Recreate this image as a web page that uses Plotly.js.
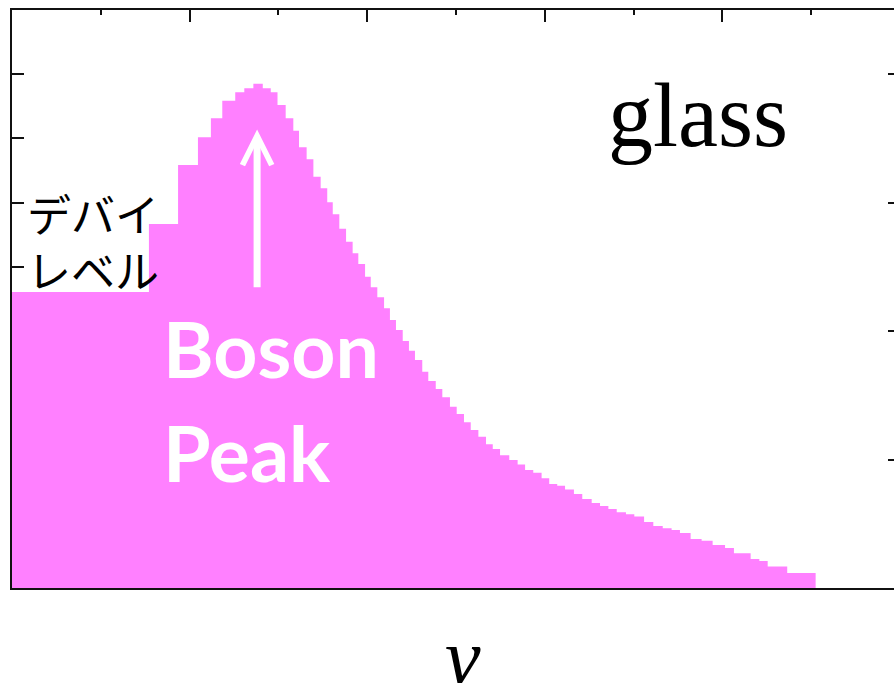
<!DOCTYPE html>
<html>
<head>
<meta charset="utf-8">
<script src="https://cdn.plot.ly/plotly-3.0.1.min.js"></script>
<style>
  html, body { margin: 0; padding: 0; overflow: hidden; background: #ffffff; }
  #chart { width: 906px; height: 683px; }
</style>
</head>
<body>
<div id="chart"></div>
<script>
// Vibrational density of states g(ν)/ν² of a glass, as a step histogram.
// Left bin edges along ν (arbitrary units) and the level of each bin.
const nuEdges = [
  0.000, 0.771, 0.935, 1.047, 1.120, 1.184, 1.257, 1.308, 1.359, 1.412,
  1.457, 1.495, 1.541, 1.584, 1.616, 1.659, 1.697, 1.738, 1.775, 1.806,
  1.843, 1.881, 1.918, 1.950, 1.988, 2.020, 2.057, 2.095, 2.128, 2.162,
  2.200, 2.235, 2.269, 2.310, 2.344, 2.386, 2.423, 2.466, 2.504, 2.545,
  2.583, 2.626, 2.669, 2.707, 2.748, 2.800, 2.847, 2.889, 2.935, 2.982,
  3.025, 3.070, 3.114, 3.164, 3.211, 3.264, 3.311, 3.358, 3.405, 3.457,
  3.504, 3.559, 3.611, 3.664, 3.714, 3.761, 3.821, 3.883, 3.945, 4.015,
  4.065, 4.159, 4.208, 4.255, 4.365
];
const nuEnd = 4.525;
const gDensity = [
  2.305, 2.834, 3.293, 3.509, 3.657, 3.794, 3.859, 3.891, 3.926, 3.891,
  3.859, 3.761, 3.657, 3.560, 3.431, 3.338, 3.202, 3.112, 3.003, 2.910,
  2.797, 2.696, 2.606, 2.523, 2.424, 2.341, 2.263, 2.178, 2.087, 2.009,
  1.923, 1.848, 1.775, 1.684, 1.612, 1.549, 1.485, 1.412, 1.355, 1.290,
  1.230, 1.178, 1.119, 1.082, 1.033, 0.997, 0.962, 0.919, 0.898, 0.854,
  0.810, 0.796, 0.767, 0.732, 0.693, 0.662, 0.638, 0.615, 0.589, 0.574,
  0.557, 0.514, 0.483, 0.465, 0.452, 0.428, 0.382, 0.368, 0.335, 0.311,
  0.270, 0.226, 0.210, 0.167, 0.117
];

// Debye level and the Boson-peak arrow (from just above the Debye level up to the peak)
const debyeLevel = gDensity[0];
const peakNu = 1.38;
const peakTip = 3.57;
const arrowBase = 2.33;

const axisRangeX = [0, 5];
const axisRangeY = [0, 4.5];

const stepX = nuEdges.concat([nuEnd]);
const stepY = gDensity.concat([gDensity[gDensity.length - 1]]);

const histTrace = {
  x: stepX, y: stepY,
  type: 'scatter', mode: 'lines',
  line: { shape: 'hv', width: 0, color: '#ff80ff' },
  fill: 'tozeroy', fillcolor: '#ff80ff',
  hoverinfo: 'skip', showlegend: false
};
// carries the mirrored top / right axes
const frameTrace = {
  x: axisRangeX, y: axisRangeY, xaxis: 'x2', yaxis: 'y2',
  type: 'scatter', mode: 'markers', marker: { opacity: 0 },
  hoverinfo: 'skip', showlegend: false
};

const axisColor = '#111111';
const jpFont = { family: '"Noto Sans CJK JP", "Noto Sans", sans-serif', size: 44, color: '#000000' };
const peakFont = { family: 'Lato, "Open Sans", sans-serif', size: 77, color: '#ffffff' };

const layout = {
  width: 906, height: 683,
  margin: { l: 12, r: 6, t: 10, b: 95 },
  paper_bgcolor: '#ffffff', plot_bgcolor: '#ffffff',
  showlegend: false,
  xaxis: {
    range: axisRangeX, showline: true, linecolor: axisColor, linewidth: 2,
    ticks: '', showticklabels: false, showgrid: false, zeroline: false,
    layer: 'above traces', fixedrange: true
  },
  xaxis2: {
    overlaying: 'x', side: 'top', range: axisRangeX,
    showline: true, linecolor: axisColor, linewidth: 2,
    ticks: 'inside', ticklen: 12, tickwidth: 2, tickcolor: axisColor,
    tick0: 0, dtick: 1,
    minor: { ticks: 'inside', ticklen: 5, tickwidth: 2, tickcolor: axisColor, tick0: 0.5, dtick: 1 },
    showticklabels: false, showgrid: false, zeroline: false, fixedrange: true
  },
  yaxis: {
    range: axisRangeY, showline: true, linecolor: axisColor, linewidth: 2,
    ticks: 'inside', ticklen: 12, tickwidth: 2, tickcolor: axisColor,
    tick0: 0, dtick: 0.5,
    showticklabels: false, showgrid: false, zeroline: false,
    layer: 'below traces', fixedrange: true
  },
  yaxis2: {
    overlaying: 'y', side: 'right', range: axisRangeY,
    showline: true, linecolor: axisColor, linewidth: 2,
    ticks: 'inside', ticklen: 12, tickwidth: 2, tickcolor: axisColor,
    tick0: 0, dtick: 1,
    showticklabels: false, showgrid: false, zeroline: false, fixedrange: true
  },
  annotations: [
    {
      xref: 'x', yref: 'y', x: peakNu, y: peakTip,
      axref: 'x', ayref: 'y', ax: peakNu, ay: arrowBase,
      text: '', showarrow: true, arrowhead: 5, arrowsize: 0.82,
      arrowwidth: 7, arrowcolor: '#ffffff', standoff: 0
    },
    {
      xref: 'x', yref: 'y', x: 0.08, y: debyeLevel + 0.615,
      xanchor: 'left', yanchor: 'middle', showarrow: false, borderpad: 0,
      text: 'デバイ', font: jpFont
    },
    {
      xref: 'x', yref: 'y', x: 0.08, y: debyeLevel + 0.175,
      xanchor: 'left', yanchor: 'middle', showarrow: false, borderpad: 0,
      text: 'レベル', font: jpFont
    },
    {
      xref: 'x', yref: 'y', x: 0.84, y: 1.87,
      xanchor: 'left', yanchor: 'middle', showarrow: false,
      text: '<b>Boson</b>', font: peakFont
    },
    {
      xref: 'x', yref: 'y', x: 0.84, y: 1.06,
      xanchor: 'left', yanchor: 'middle', showarrow: false,
      text: '<b>Peak</b>', font: peakFont
    },
    {
      xref: 'x', yref: 'y', x: 3.863, y: 3.68,
      xanchor: 'center', yanchor: 'middle', showarrow: false,
      text: 'glass',
      font: { family: '"Liberation Serif", "Times New Roman", serif', size: 90, color: '#000000' }
    },
    {
      xref: 'paper', yref: 'paper', x: 0.508, y: -0.04,
      xanchor: 'center', yanchor: 'top', showarrow: false,
      text: '<i>ν</i>',
      font: { family: '"Liberation Serif", "Times New Roman", serif', size: 80, color: '#000000' }
    }
  ]
};

Plotly.newPlot('chart', [histTrace, frameTrace], layout, { staticPlot: true, displayModeBar: false });
</script>
</body>
</html>
